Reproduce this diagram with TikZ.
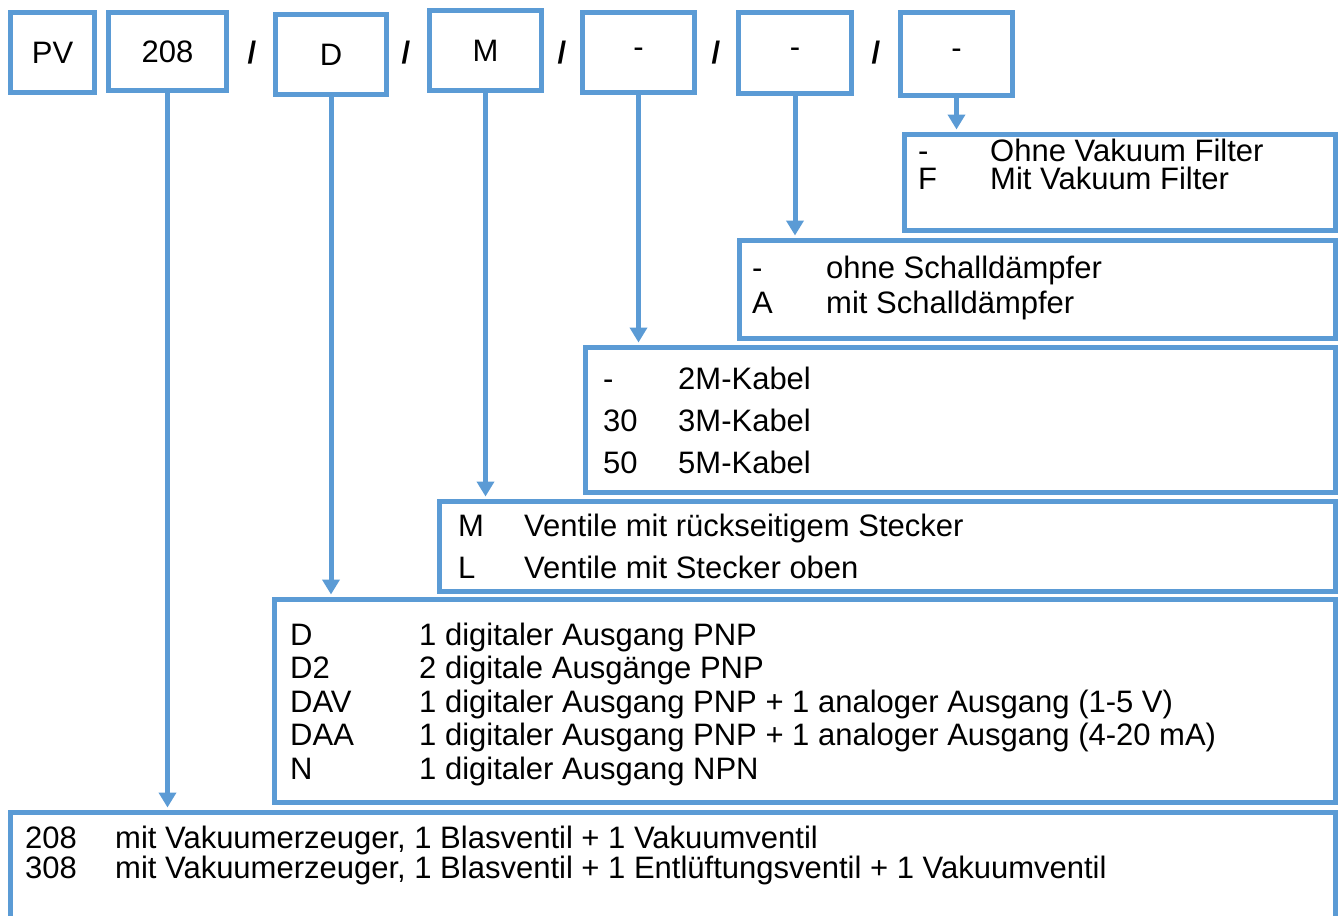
\documentclass[tikz,border=0pt]{standalone}
\usepackage{fontspec}
\setmainfont{Liberation Sans}
\usetikzlibrary{arrows.meta,positioning}
\definecolor{frameblue}{RGB}{91,155,213}
\tikzset{
    codebox/.style={draw=frameblue, line width=5pt, outer sep=0pt, inner sep=0pt},
    listbox/.style={draw=frameblue, line width=5pt, outer sep=0pt, inner sep=0pt, anchor=north west},
    slash/.style={font=\fontsize{31}{36}\selectfont\bfseries},
    entry/.style={anchor=base west, inner sep=0pt},
    pick/.style={draw=frameblue, line width=5pt, -{Triangle[width=17pt,length=15pt]}, shorten >=5pt}
}
\begin{document}
\begin{tikzpicture}[x=1pt, y=-1pt, font=\fontsize{31}{36}\selectfont]
\useasboundingbox (0,0) rectangle (1342,916);

\node[codebox, minimum width=84pt, minimum height=80pt] (pv) at (52.5, 52.5) {PV};
\node[codebox, minimum width=118pt, minimum height=78pt] (type) at (167.5, 51.5) {208};
\node[codebox, minimum width=111pt, minimum height=80pt] (out) at (331, 54.5) {D};
\node[codebox, minimum width=112pt, minimum height=80pt] (plug) at (485.5, 50.5) {M};
\node[codebox, minimum width=112pt, minimum height=80pt] (cable) at (638.5, 52.5) {-};
\node[codebox, minimum width=113pt, minimum height=81pt] (muff) at (795, 53) {-};
\node[codebox, minimum width=112pt, minimum height=83pt] (filter) at (956.5, 54) {-};

\node[slash] (s1) at (252, 53) {/};
\node[slash] (s2) at (406, 53) {/};
\node[slash] (s3) at (562, 53) {/};
\node[slash] (s4) at (716, 53) {/};
\node[slash] (s5) at (876, 53) {/};

\node[listbox, minimum width=431pt, minimum height=96pt] (filterlist) at (904.5, 134.5) {};
\node[listbox, minimum width=596pt, minimum height=98pt] (mufflist) at (739.5, 240.5) {};
\node[listbox, minimum width=750pt, minimum height=145pt] (cablelist) at (585.5, 347.5) {};
\node[listbox, minimum width=896pt, minimum height=90pt] (pluglist) at (439.5, 501.5) {};
\node[listbox, minimum width=1061pt, minimum height=203pt] (outlist) at (274.5, 599.5) {};
\node[listbox, minimum width=1325pt, minimum height=140pt] (typelist) at (10.5, 812.5) {};

\foreach \key/\txt [count=\i] in {-/Ohne Vakuum Filter, F/Mit Vakuum Filter} {
    \node[entry] (filterkey\i) at (918, 133 + 28*\i) {\key};
    \node[entry] (filtertxt\i) at (990, 133 + 28*\i) {\txt};
}
\foreach \key/\txt [count=\i] in {-/ohne Schalldämpfer, A/mit Schalldämpfer} {
    \node[entry] (muffkey\i) at (752, 243 + 35*\i) {\key};
    \node[entry] (mufftxt\i) at (826, 243 + 35*\i) {\txt};
}
\foreach \key/\txt [count=\i] in {-/2M-Kabel, 30/3M-Kabel, 50/5M-Kabel} {
    \node[entry] (cablekey\i) at (603, 347 + 42*\i) {\key};
    \node[entry] (cabletxt\i) at (678, 347 + 42*\i) {\txt};
}
\foreach \key/\txt [count=\i] in {M/Ventile mit rückseitigem Stecker, L/Ventile mit Stecker oben} {
    \node[entry] (plugkey\i) at (458, 494 + 42*\i) {\key};
    \node[entry] (plugtxt\i) at (524, 494 + 42*\i) {\txt};
}
\foreach \key/\txt [count=\i] in {D/1 digitaler Ausgang PNP, D2/2 digitale Ausgänge PNP,
        DAV/1 digitaler Ausgang PNP + 1 analoger Ausgang (1-5 V),
        DAA/1 digitaler Ausgang PNP + 1 analoger Ausgang (4-20 mA), N/1 digitaler Ausgang NPN} {
    \node[entry] (outkey\i) at (290, 611.5 + 33.5*\i) {\key};
    \node[entry] (outtxt\i) at (419, 611.5 + 33.5*\i) {\txt};
}
\foreach \key/\txt [count=\i] in {208/{mit Vakuumerzeuger, 1 Blasventil + 1 Vakuumventil},
        308/{mit Vakuumerzeuger, 1 Blasventil + 1 Entlüftungsventil + 1 Vakuumventil}} {
    \node[entry] (typekey\i) at (25, 818 + 30*\i) {\key};
    \node[entry] (typetxt\i) at (115, 818 + 30*\i) {\txt};
}

\draw[pick] (type.south) -- (type.south |- typelist.north);
\draw[pick] (out.south) -- (out.south |- outlist.north);
\draw[pick] (plug.south) -- (plug.south |- pluglist.north);
\draw[pick] (cable.south) -- (cable.south |- cablelist.north);
\draw[pick] (muff.south) -- (muff.south |- mufflist.north);
\draw[pick] (filter.south) -- (filter.south |- filterlist.north);
\end{tikzpicture}
\end{document}
